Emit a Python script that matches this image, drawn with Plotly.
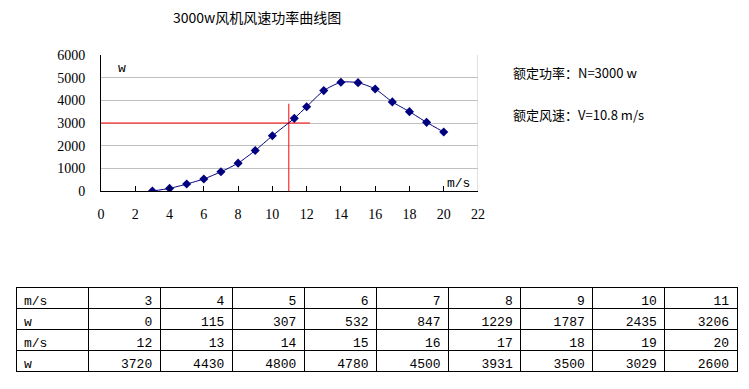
import plotly.graph_objects as go

# ---- data ----
speeds = [3, 4, 5, 6, 7, 8, 9, 10, 11, 12, 13, 14, 15, 16, 17, 18, 19, 20]
powers = [0, 115, 307, 532, 847, 1229, 1787, 2435, 3206, 3720, 4430, 4800, 4780, 4500, 3931, 3500, 3029, 2600]
# x positions as drawn in the chart (the 3206 point sits slightly right of 11)
chart_speeds = [3, 4, 5, 6, 7, 8, 9, 10, 11.28, 12, 13, 14, 15, 16, 17, 18, 19, 20]
x_ticks = [0, 2, 4, 6, 8, 10, 12, 14, 16, 18, 20, 22]
y_ticks = [0, 1000, 2000, 3000, 4000, 5000, 6000]
rated_power = 3000
rated_line_x = 10.96
h_line_end = 12.2
v_line_top = 3850
title_text = "3000w风机风速功率曲线图"
note1 = "额定功率：N=3000 w"
note2 = "额定风速：V=10.8 m/s"

W, H = 749, 389
def px(x):
    return x / W
def py(y):
    return 1 - y / H

serif = "Liberation Serif"
cjk = "Noto Sans CJK SC"
mono = "Liberation Mono"

fig = go.Figure()

# reference lines
fig.add_trace(go.Scatter(x=[0, h_line_end], y=[rated_power, rated_power], mode="lines",
                         line=dict(color="#FF0000", width=1), hoverinfo="skip", showlegend=False))
fig.add_trace(go.Scatter(x=[rated_line_x, rated_line_x], y=[0, v_line_top], mode="lines",
                         line=dict(color="#FF0000", width=1), hoverinfo="skip", showlegend=False))

# power curve
fig.add_trace(go.Scatter(x=chart_speeds, y=powers, mode="lines+markers",
                         line=dict(color="#000080", width=1, shape="spline", smoothing=0.6),
                         marker=dict(symbol="diamond", size=7, color="#000080"),
                         showlegend=False))

# right border of plot area
fig.add_shape(type="line", xref="x", yref="y", x0=22, x1=22, y0=0, y1=6000,
              line=dict(color="#C0C0C0", width=1))

fig.update_xaxes(domain=[px(101), px(478)], range=[0, 22], tickvals=x_ticks, automargin=False,
                 showgrid=False, zeroline=False, showline=True, linecolor="black", linewidth=1,
                 ticks="inside", ticklen=5, tickcolor="black",
                 tickfont=dict(family=serif, size=14, color="black"), ticklabelstandoff=10)
fig.update_yaxes(domain=[py(191), py(55)], range=[0, 6000], tickvals=y_ticks, automargin=False,
                 showgrid=True, gridcolor="#C0C0C0", gridwidth=1, zeroline=False,
                 showline=True, linecolor="black", linewidth=1, ticks="",
                 tickfont=dict(family=serif, size=14, color="black"), ticklabelstandoff=12)

ann = [
    dict(text=title_text, x=px(257), y=py(17), font=dict(family=cjk, size=14, color="black")),
    dict(text="w", x=px(122), y=py(69), font=dict(family=mono, size=13, color="black")),
    dict(text="m/s", x=px(458), y=py(183), font=dict(family=mono, size=13, color="black")),
    dict(text=note1, x=px(511), y=py(73), xanchor="left", font=dict(family=cjk, size=13, color="black")),
    dict(text=note2, x=px(511), y=py(114), xanchor="left", font=dict(family=cjk, size=13, color="black")),
]
for a in ann:
    a.setdefault("xanchor", "center")
    fig.add_annotation(xref="paper", yref="paper", yanchor="middle", showarrow=False, **a)

# table
half = 9
row1 = ["m/s"] + [str(s) for s in speeds[:half]]
row2 = ["w"] + [str(p) for p in powers[:half]]
row3 = ["m/s"] + [str(s) for s in speeds[half:]]
row4 = ["w"] + [str(p) for p in powers[half:]]
cols = [[row2[i], row3[i], row4[i]] for i in range(len(row1))]
aligns = ["left"] + ["right"] * half

fig.add_trace(go.Table(
    domain=dict(x=[px(16), px(737)], y=[py(372), py(287)]),
    columnwidth=[1] * 10,
    header=dict(values=row1, align=aligns, height=21,
                line=dict(color="black", width=1), fill=dict(color="white"),
                font=dict(family=mono, size=13, color="black")),
    cells=dict(values=cols, align=aligns, height=21,
               line=dict(color="black", width=1), fill=dict(color="white"),
               font=dict(family=mono, size=13, color="black")),
))

fig.update_layout(width=W, height=H, margin=dict(l=0, r=0, t=0, b=0),
                  paper_bgcolor="white", plot_bgcolor="white", showlegend=False)

fig.write_html("out.html", config={"displayModeBar": False},
               post_script="document.body.style.margin='0';document.body.style.overflow='hidden';")
